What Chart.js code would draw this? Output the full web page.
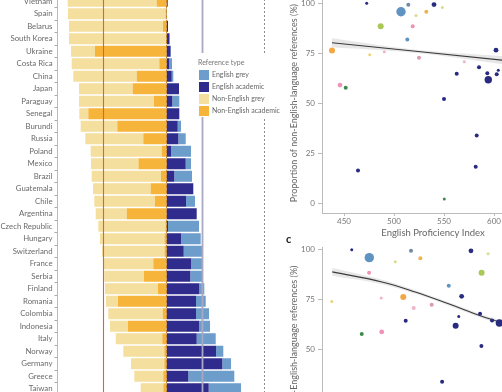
<!DOCTYPE html>
<html>
<head>
<meta charset="utf-8">
<script src="https://cdn.jsdelivr.net/npm/chart.js@4.4.0/dist/chart.umd.min.js"></script>
<style>
  html, body { margin: 0; padding: 0; background: #fff; }
  body { width: 502px; height: 392px; overflow: hidden; position: relative; }
  .panel { position: absolute; }
</style>
</head>
<body>
<div class="panel" style="left:0;top:-5px;width:280px;height:400px"><canvas id="barChart"></canvas></div>
<div class="panel" style="left:286px;top:-21px;width:268px;height:264px"><canvas id="epiChart"></canvas></div>
<div class="panel" style="left:286px;top:233px;width:268px;height:279px"><canvas id="otherChart"></canvas></div>
<script>
// PANEL A - share of references by type (%)
var countries = ['Vietnam', 'Spain', 'Belarus', 'South Korea', 'Ukraine', 'Costa Rica', 'China', 'Japan',
  'Paraguay', 'Senegal', 'Burundi', 'Russia', 'Poland', 'Mexico', 'Brazil', 'Guatemala', 'Chile',
  'Argentina', 'Czech Republic', 'Hungary', 'Switzerland', 'France', 'Serbia', 'Finland', 'Romania',
  'Colombia', 'Indonesia', 'Italy', 'Norway', 'Germany', 'Greece', 'Taiwan'];
var nonEnglishGrey = [89, 97.5, 94, 97, 24, 87.6, 63.4, 53.7, 75, 9, 36.6, 58, 71, 47.5, 69.3, 57.7, 60.7,
  31, 67.2, 64.5, 62.5, 49.6, 39.7, 53, 12, 54.4, 18, 46.6, 41, 33.3, 29, 22.6];
var nonEnglishAcademic = [9.8, 1, 3.5, 0.5, 71.5, 7.2, 29.8, 33.8, 12.5, 78.2, 49.2, 23.2, 4.8, 28, 5.5, 15.8, 11.5,
  39.8, 1, 2, 2, 13.2, 22.5, 8.5, 48.5, 3.8, 38.5, 4.2, 2.2, 2.2, 3.2, 3.2];
var englishAcademic = [1.2, 0.5, 1.5, 2.5, 4, 2.8, 5.2, 12.5, 5.8, 12.8, 11.2, 11.8, 4.5, 19.2, 7.8, 26.8, 19.5,
  30.2, 1.5, 14.5, 17.2, 24.5, 23.8, 32.8, 29.5, 29.5, 32.5, 30.2, 49.5, 55.8, 21.8, 42.2];
var englishGrey = [0, 0, 0, 1, 0.5, 2.7, 1.6, 0, 7, 0, 3.3, 7.4, 20, 5.3, 17.7, 0, 9,
  0, 31, 19.7, 19, 11.7, 12.4, 5, 9.7, 13, 11, 19, 7.3, 8.7, 46, 32.3];
var meanNonEnglish = 64;
var meanEnglish = 36;
var legendOrder = ['English grey', 'English academic', 'Non-English grey', 'Non-English academic'];

// PANEL B - proportion of non-English references vs English Proficiency Index
var epiB = [472.7, 507, 514.3, 540, 548.3, 532.3, 522, 486.7, 518.7, 513.3, 438, 475.7, 490.3, 525, 570.3,
  602, 585, 562.7, 593.3, 602.7, 604.3, 594.3, 446, 451.7, 550, 582.7, 464, 581.7, 550.3];
var propB = [100, 95.7, 99.2, 99.3, 97.8, 95.7, 93.8, 88.5, 88.5, 81.8, 76.3, 74.2, 75.7, 72.7, 70.7,
  76.5, 68, 64.7, 65, 64.5, 66.5, 61.7, 59, 57.7, 52, 33.8, 16.3, 18.2, 2];
var groupB = ['navy', 'steel', 'slate', 'navy', 'lime', 'gold', 'lime', 'olive', 'pink', 'steel', 'orange',
  'yellow', 'lightpink', 'mauve', 'lightpink', 'navy', 'navy', 'navy', 'navy', 'navy', 'navy', 'navy',
  'pink', 'green', 'navy', 'navy', 'navy', 'navy', 'green'];
var weightB = [1, 6, 2, 3, 1, 2, 1, 4, 2, 2, 4, 1, 1, 2, 1, 3, 2, 2, 2, 2, 1, 5, 3, 2, 2, 2, 2, 2, 1];
var fitEpiB = [438, 620];
var fitPropB = [80.2, 70.9];
var bandEpiB = [438, 520, 620];
var bandHiB = [82.4, 76.8, 73.1];
var bandLoB = [78.0, 75.2, 68.7];

// PANEL C - same proportion vs second indicator
var xC = [13.4, 21.3, 40.1, 67.1, 74.8, 44.3, 33, 71.9, 21.2, 57.1, 62.9, 36.6, 26.7, 4.4, 41.3, 49.4,
  71.2, 61.6, 76.6, 79.9, 37.7, 60.2, 17.9, 26.9, 71.8, 54.1];
var propC = [99.7, 95.8, 99.2, 99.2, 97.7, 95.5, 93.7, 88.3, 88.3, 81.8, 76.5, 76.2, 75.7, 74, 70.7, 72.3,
  67.8, 66.5, 64.5, 63.2, 64.3, 61.8, 57.7, 58.8, 51.8, 34];
var groupC = ['navy', 'steel', 'slate', 'navy', 'lime', 'gold', 'lime', 'olive', 'pink', 'steel', 'navy',
  'orange', 'lightpink', 'yellow', 'lightpink', 'mauve', 'navy', 'navy', 'navy', 'navy', 'navy', 'navy',
  'green', 'pink', 'navy', 'navy'];
var weightC = [1, 6, 2, 3, 1, 2, 1, 4, 2, 2, 3, 4, 1, 1, 2, 2, 2, 1, 2, 5, 2, 4, 2, 3, 2, 2];
var fitXC = [4.6, 27, 42, 57, 71, 80, 90];
var fitPropC = [88.7, 83.7, 78.7, 72.8, 67, 63.7, 60];
var bandHiC = [90.6, 84.8, 79.6, 73.6, 67.9, 64.8, 61.9];
var bandLoC = [86.8, 82.6, 77.8, 72.0, 66.1, 62.6, 58.1];

// styles
var groupColours = {
  navy: '#282b80', steel: '#5f93c1', slate: '#7489a7', lime: '#d9dc8c', gold: '#edb64b', olive: '#a9c957',
  pink: '#ee93b7', orange: '#f2a843', yellow: '#ebd57a', lightpink: '#f1b3c6', mauve: '#d99bb1', green: '#3c8b4c'
};
var radii = [0, 1.5, 2, 2.4, 3, 3.7, 4.7];
var fontFamily = 'Lato, "Open Sans", sans-serif';

function zip(xs, ys) {
  return xs.map(function (x, i) { return {x: x, y: ys[i]}; });
}

// REF LINES ON BARS (means + zero)
var refLines = {
  id: 'refLines',
  afterDatasetsDraw: function (chart) {
    var c = chart.ctx, x = chart.scales.x, a = chart.chartArea;
    c.save();
    c.lineWidth = 1.1;
    c.strokeStyle = '#e35f3f';
    var xr = Math.round(x.getPixelForValue(-meanNonEnglish)) + 0.5;
    c.beginPath(); c.moveTo(xr, a.top); c.lineTo(xr, a.bottom); c.stroke();
    c.lineWidth = 1.8;
    c.strokeStyle = '#a9a9c4';
    var xg = x.getPixelForValue(meanEnglish);
    c.beginPath(); c.moveTo(xg, a.top); c.lineTo(xg, a.bottom); c.stroke();
    c.lineWidth = 1;
    c.strokeStyle = '#c8862c';
    c.setLineDash([3, 2]);
    var x0 = Math.round(x.getPixelForValue(0)) - 0.5;
    c.beginPath(); c.moveTo(x0, a.top); c.lineTo(x0, a.bottom); c.stroke();
    c.restore();
  }
};

// DIVIDER + LEGEND
var legendBox = {
  id: 'legendBox',
  afterDraw: function (chart) {
    var c = chart.ctx;
    c.save();
    c.strokeStyle = '#8c8c8c';
    c.lineWidth = 1;
    c.setLineDash([2, 2]);
    c.beginPath(); c.moveTo(264.5, 0); c.lineTo(264.5, chart.height); c.stroke();
    c.setLineDash([]);
    c.fillStyle = '#fff';
    c.fillRect(195, 58, 85, 64);
    c.font = '7px ' + fontFamily;
    c.textBaseline = 'middle';
    c.fillStyle = '#777';
    c.fillText('Reference type', 198, 68);
    legendOrder.forEach(function (name, i) {
      var ds = chart.data.datasets.find(function (d) { return d.label === name; });
      var y = 75 + i * 12;
      c.fillStyle = ds.backgroundColor;
      c.fillRect(199, y, 10, 10);
      c.fillStyle = '#666';
      c.fillText(name, 212, y + 5);
    });
    c.restore();
  }
};

new Chart(document.getElementById('barChart').getContext('2d'), {
  type: 'bar',
  data: {
    labels: countries,
    datasets: [
      {label: 'Non-English academic', data: nonEnglishAcademic.map(function (v) { return -v; }), backgroundColor: '#f6b43a'},
      {label: 'Non-English grey', data: nonEnglishGrey.map(function (v) { return -v; }), backgroundColor: '#f5df9f'},
      {label: 'English academic', data: englishAcademic, backgroundColor: '#302c8e'},
      {label: 'English grey', data: englishGrey, backgroundColor: '#6c9dcb'}
    ]
  },
  options: {
    indexAxis: 'y',
    responsive: true,
    maintainAspectRatio: false,
    animation: false,
    layout: {padding: {left: 0, right: 33.5, top: 0, bottom: 0}},
    datasets: {bar: {barPercentage: 0.88, categoryPercentage: 1, borderWidth: 0}},
    plugins: {legend: {display: false}, tooltip: {enabled: false}},
    scales: {
      x: {stacked: true, min: -109, max: 80, display: false},
      y: {
        stacked: true,
        grid: {drawOnChartArea: false, drawTicks: true, tickLength: 3, color: '#aaa'},
        border: {display: true, color: '#bbb'},
        ticks: {autoSkip: false, padding: 2, color: '#6a6a6a', font: {family: fontFamily, size: 7.8}},
        afterFit: function (s) {
          s.width = 57.5;
          // let the first/last rows run off the canvas edge like the cropped original
          s.paddingTop = 0;
          s.paddingBottom = 0;
        }
      }
    }
  },
  plugins: [refLines, legendBox]
});

function scatterChart(id, tag, xs, ys, groups, weights, fitX, fitY, bandX, bandHi, bandLo, xOpts, yMin, yMax) {
  return new Chart(document.getElementById(id).getContext('2d'), {
    type: 'scatter',
    data: {
      datasets: [
        {
          data: zip(xs, ys),
          pointBackgroundColor: groups.map(function (g) { return groupColours[g]; }),
          pointRadius: weights.map(function (w) { return radii[w]; }),
          pointBorderWidth: 0,
          order: 0
        },
        {type: 'line', data: zip(fitX, fitY), borderColor: '#3a3a3a', borderWidth: 1.1, pointRadius: 0, tension: 0.4, fill: false, order: 1},
        {type: 'line', data: zip(bandX, bandHi), borderWidth: 0, pointRadius: 0, tension: 0.4, fill: '+1', backgroundColor: 'rgba(160,160,160,0.25)', order: 2},
        {type: 'line', data: zip(bandX, bandLo), borderWidth: 0, pointRadius: 0, tension: 0.4, fill: false, order: 2}
      ]
    },
    options: {
      responsive: true,
      maintainAspectRatio: false,
      animation: false,
      layout: {padding: {left: 0, right: 10, top: 0, bottom: 0}},
      plugins: {
        legend: {display: false},
        tooltip: {enabled: false},
        title: {display: true, text: tag, align: 'start', color: '#222', padding: {top: 0, bottom: 1},
          font: {family: fontFamily, size: 11, weight: 'bold', lineHeight: 1.2}}
      },
      scales: {
        x: Object.assign({
          type: 'linear',
          grid: {drawOnChartArea: false, tickLength: 3, color: '#bbb'},
          border: {color: '#bbb'},
          ticks: {includeBounds: false, padding: 1, color: '#777', font: {family: fontFamily, size: 8}},
          afterFit: function (s) { s.height = 30; }
        }, xOpts),
        y: {
          min: yMin, max: yMax,
          grid: {drawOnChartArea: false, tickLength: 4, color: '#bbb'},
          border: {color: '#bbb'},
          ticks: {stepSize: 25, includeBounds: false, padding: 3, color: '#777', font: {family: fontFamily, size: 8}},
          title: {display: true, text: 'Proportion of non-English-language references (%)', color: '#666',
            padding: {top: 2.6, bottom: 2}, font: {family: fontFamily, size: 9}},
          afterFit: function (s) { s.width = 36; }
        }
      }
    }
  });
}

scatterChart('epiChart', 'b', epiB, propB, groupB, weightB, fitEpiB, fitPropB, bandEpiB, bandHiB, bandLoB,
  {min: 428, max: 650, ticks: {stepSize: 50, includeBounds: false, padding: 1, color: '#777', font: {family: fontFamily, size: 8}},
   title: {display: true, text: 'English Proficiency Index', color: '#666', padding: {top: 0, bottom: 4.8}, font: {family: fontFamily, size: 9.5}}},
  -5, 105);

scatterChart('otherChart', 'c', xC, propC, groupC, weightC, fitXC, fitPropC, fitXC, bandHiC, bandLoC,
  {min: 0, max: 100}, -16, 101);
</script>
</body>
</html>
